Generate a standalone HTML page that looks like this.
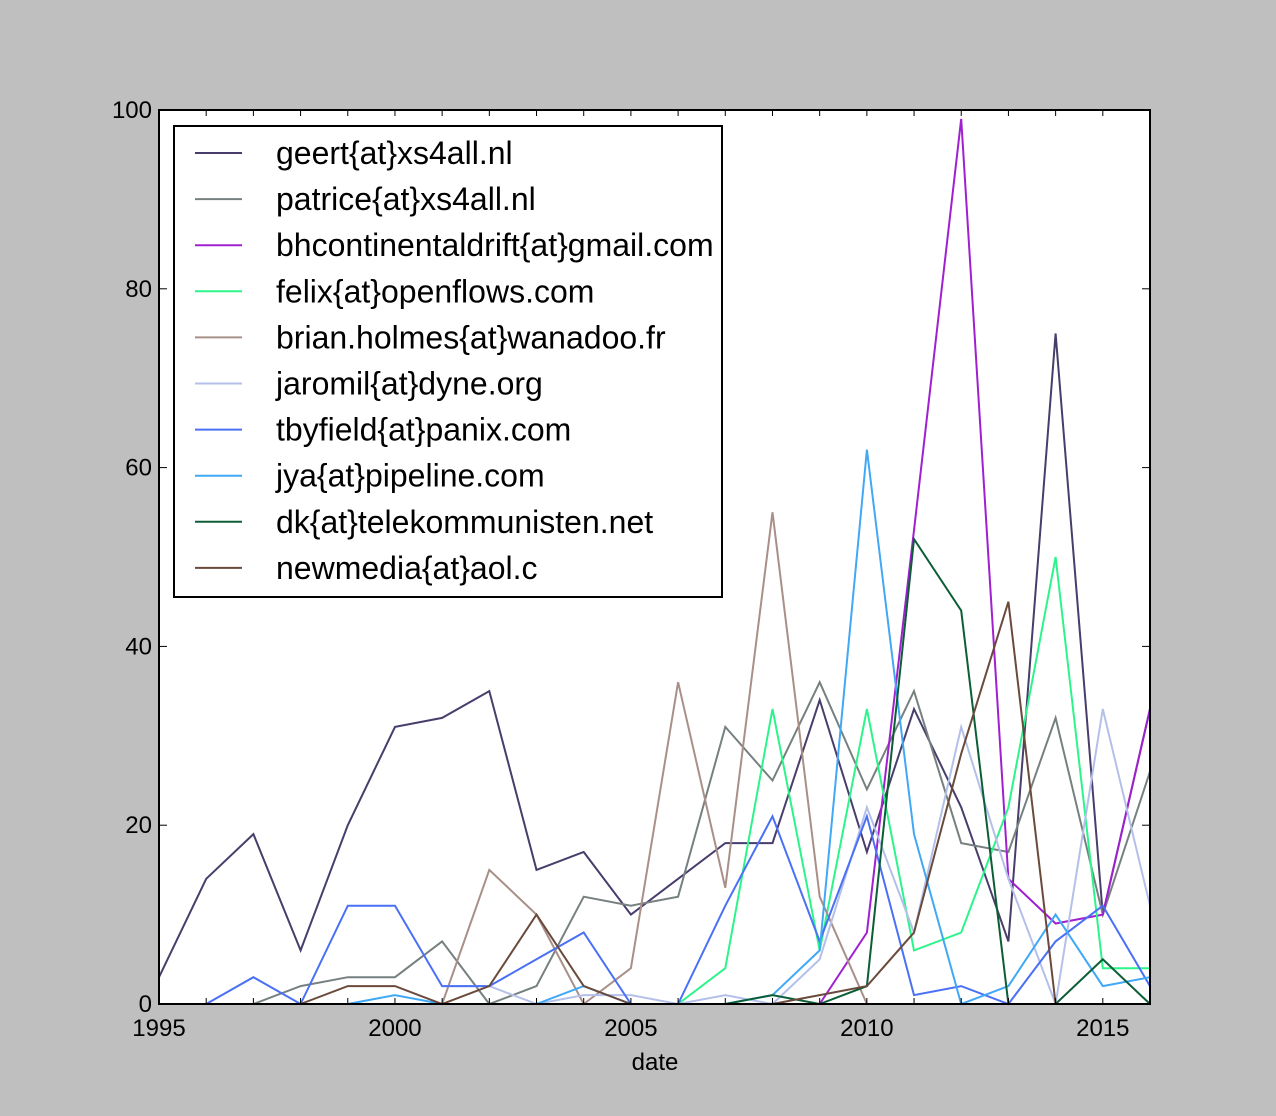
<!DOCTYPE html>
<html><head><meta charset="utf-8"><style>
body{margin:0;background:#bfbfbf;}
svg{display:block;font-family:"Liberation Sans",sans-serif;}
</style></head><body>
<svg id="s" width="1276" height="1116" xmlns="http://www.w3.org/2000/svg">
<rect x="0" y="0" width="1276" height="1116" fill="#bfbfbf"/>
<rect x="159" y="110" width="991" height="894" fill="#fff"/>
<g id="lines" fill="none" stroke-width="2"></g>
<rect x="159" y="110" width="991" height="894" fill="none" stroke="#000" stroke-width="2"/>
<g id="ticks" stroke="#000" stroke-width="1"></g>
<g id="labels" font-size="24" fill="#000"></g>
<text x="655" y="1070" font-size="24" text-anchor="middle">date</text>
<rect x="174" y="126" width="548" height="471" fill="#fff" stroke="#000" stroke-width="2"/>
<g id="legend" font-size="32"></g>
</svg>
<script>
var X=function(y){return 159+(y-1995)*991/21;};
var Y=function(v){return 1004-v*8.94;};
var S=[
["geert{at}xs4all.nl","#483d6b",1995,[3,14,19,6,20,31,32,35,15,17,10,14,18,18,34,17,33,22,7,75,10,33]],
["patrice{at}xs4all.nl","#778080",1997,[0,2,3,3,7,0,2,12,11,12,31,25,36,24,35,18,17,32,10,26]],
["bhcontinentaldrift{at}gmail.com","#a020d0",2009,[0,8,53,99,14,9,10,33]],
["felix{at}openflows.com","#2bf58a",2006,[0,4,33,6,33,6,8,22,50,4,4]],
["brian.holmes{at}wanadoo.fr","#a89088",2001,[0,15,10,0,4,36,13,55,12,0]],
["jaromil{at}dyne.org","#b4c0ea",2001,[2,2,0,1,1,0,1,0,5,22,8,31,14,0,33,11]],
["tbyfield{at}panix.com","#4a70f5",1996,[0,3,0,11,11,2,2,5,8,0,0,11,21,7,21,1,2,0,7,11,2]],
["jya{at}pipeline.com","#40a8f5",1999,[0,1,0,0,0,2,0,0,0,1,6,62,19,0,2,10,2,3]],
["dk{at}telekommunisten.net","#0b5e35",2007,[0,1,0,2,52,44,0,0,5,0]],
["newmedia{at}aol.c","#6b4a3c",1998,[0,2,2,0,2,10,2,0,0,0,0,1,2,8,28,45,0]]
];
var NS="http://www.w3.org/2000/svg";
function el(t,a,p,txt){var e=document.createElementNS(NS,t);for(var k in a)e.setAttribute(k,a[k]);if(txt)e.textContent=txt;document.getElementById(p).appendChild(e);}
S.forEach(function(s,i){
 var pts=s[3].map(function(v,j){return X(s[2]+j).toFixed(1)+","+Y(v).toFixed(1);}).join(" ");
 el("polyline",{points:pts,stroke:s[1]},"lines");
 var y=153+i*46.1;
 el("line",{x1:195,x2:242,y1:y,y2:y,stroke:s[1],"stroke-width":2},"legend");
 el("text",{x:276,y:y+11},"legend",s[0]);
});
for(var yr=1995;yr<=2016;yr++){var x=X(yr);el("line",{x1:x,x2:x,y1:1004,y2:998},"ticks");el("line",{x1:x,x2:x,y1:110,y2:116},"ticks");
 if(yr%5==0)el("text",{x:x,y:1036,"text-anchor":"middle"},"labels",""+yr);}
for(var v=0;v<=100;v+=20){var y=Y(v);el("line",{x1:159,x2:167,y1:y,y2:y},"ticks");el("line",{x1:1142,x2:1150,y1:y,y2:y},"ticks");
 el("text",{x:152,y:y+8,"text-anchor":"end"},"labels",""+v);}
</script>
</body></html>
